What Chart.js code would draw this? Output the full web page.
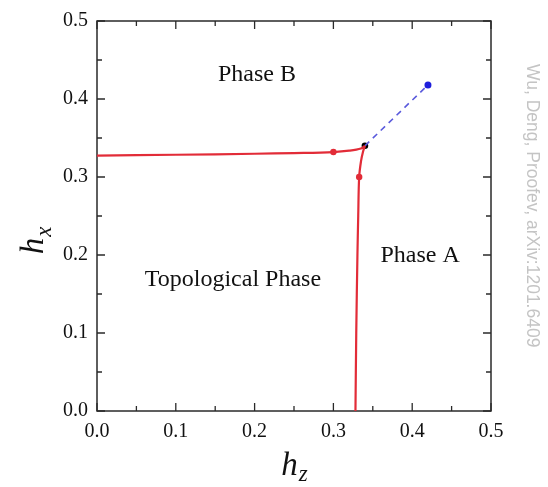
<!DOCTYPE html>
<html>
<head>
<meta charset="utf-8">
<script src="https://cdn.jsdelivr.net/npm/chart.js@4.4.0/dist/chart.umd.min.js"></script>
<style>
  html, body { margin: 0; padding: 0; background: #fff; }
  canvas { display: block; }
</style>
</head>
<body>
<canvas id="c" width="548" height="487"></canvas>
<script>
// ---- data ----
const xTicks = [0.0, 0.1, 0.2, 0.3, 0.4, 0.5];
const yTicks = [0.0, 0.1, 0.2, 0.3, 0.4, 0.5];

// Phase B / Topological boundary (roughly horizontal)
const boundaryB_hz = [0.000, 0.100, 0.200, 0.250, 0.300, 0.320, 0.335, 0.340];
const boundaryB_hx = [0.3275, 0.3285, 0.3298, 0.3307, 0.3320, 0.3337, 0.3365, 0.3400];

// Phase A / Topological boundary (roughly vertical)
const boundaryA_hz = [0.3280, 0.3290, 0.3305, 0.3315, 0.3327, 0.3350, 0.3375, 0.3400];
const boundaryA_hx = [0.000, 0.100, 0.200, 0.250, 0.300, 0.320, 0.332, 0.340];

// dashed A/B line
const dashed_hz = [0.340, 0.420];
const dashed_hx = [0.340, 0.418];

// marked points
const redMarks_hz = [0.300, 0.3327];
const redMarks_hx = [0.332, 0.300];
const triple_hz = [0.340];
const triple_hx = [0.340];

const regionLabels = ["Phase B", "Phase A", "Topological Phase"];
const regionLabel_hz = [0.203, 0.410, 0.1725];
const regionLabel_hx = [0.431, 0.199, 0.168];

const watermark = "Wu, Deng, Proofev, arXiv:1201.6409";

function pts(xs, ys) { return xs.map((x, i) => ({ x: x, y: ys[i] })); }

const SERIF = "'Liberation Serif', 'Times New Roman', serif";
const RED = "rgb(226, 44, 56)";

const framePlugin = {
  id: 'frame',
  beforeDatasetsDraw(chart) {
    const { ctx, chartArea: a, scales } = chart;
    ctx.save();
    ctx.strokeStyle = '#2a2a2a';
    ctx.lineWidth = 1.5;
    ctx.strokeRect(a.left, a.top, a.right - a.left, a.bottom - a.top);
    ctx.lineWidth = 1.3;
    ctx.beginPath();
    for (let k = 0; k <= 10; k++) {
      const v = k * 0.05;
      const len = (k % 2 === 0) ? 8 : 5;
      const px = scales.x.getPixelForValue(v);
      const py = scales.y.getPixelForValue(v);
      ctx.moveTo(px, a.bottom); ctx.lineTo(px, a.bottom - len);
      ctx.moveTo(px, a.top); ctx.lineTo(px, a.top + len);
      ctx.moveTo(a.left, py); ctx.lineTo(a.left + len, py);
      ctx.moveTo(a.right, py); ctx.lineTo(a.right - len, py);
    }
    ctx.stroke();
    ctx.restore();
  },
  afterDraw(chart) {
    const { ctx, chartArea: a, scales } = chart;
    ctx.save();
    // region labels
    ctx.fillStyle = '#111';
    ctx.font = "24px " + SERIF;
    ctx.textAlign = 'center';
    ctx.textBaseline = 'middle';
    regionLabels.forEach((t, i) => {
      ctx.fillText(t, scales.x.getPixelForValue(regionLabel_hz[i]), scales.y.getPixelForValue(regionLabel_hx[i]));
    });
    // x-axis title h_z
    ctx.textAlign = 'left';
    ctx.textBaseline = 'alphabetic';
    const cx = (a.left + a.right) / 2;
    ctx.font = "italic 33px " + SERIF;
    const wh = ctx.measureText('h').width;
    ctx.font = "italic 23px " + SERIF;
    const wz = ctx.measureText('z').width;
    let x0 = cx - (wh + wz) / 2;
    ctx.font = "italic 33px " + SERIF;
    ctx.fillText('h', x0, 475);
    ctx.font = "italic 23px " + SERIF;
    ctx.fillText('z', x0 + wh + 1, 481);
    // y-axis title h_x
    const cy = (a.top + a.bottom) / 2;
    ctx.save();
    ctx.translate(43, cy + 25);
    ctx.rotate(-Math.PI / 2);
    ctx.font = "italic 33px " + SERIF;
    const wh2 = ctx.measureText('h').width;
    ctx.font = "italic 23px " + SERIF;
    const wx2 = ctx.measureText('x').width;
    x0 = -(wh2 + wx2) / 2;
    ctx.font = "italic 33px " + SERIF;
    ctx.fillText('h', x0, 0);
    ctx.font = "italic 23px " + SERIF;
    ctx.fillText('x', x0 + wh2 + 1, 8);
    ctx.restore();
    // watermark
    ctx.save();
    ctx.translate(527, 64);
    ctx.rotate(Math.PI / 2);
    ctx.fillStyle = '#c4c4c4';
    ctx.font = "17.5px 'Liberation Sans', Arial, sans-serif";
    ctx.textAlign = 'left';
    ctx.textBaseline = 'alphabetic';
    ctx.fillText(watermark, 0, 0);
    ctx.restore();
    ctx.restore();
  }
};

new Chart(document.getElementById('c'), {
  type: 'scatter',
  data: {
    datasets: [
      {
        data: pts(boundaryB_hz, boundaryB_hx),
        showLine: true, borderColor: RED, borderWidth: 2.2, tension: 0.35,
        pointRadius: 0, fill: false
      },
      {
        data: pts(boundaryA_hz, boundaryA_hx),
        showLine: true, borderColor: RED, borderWidth: 2.2, tension: 0.35,
        pointRadius: 0, fill: false
      },
      {
        data: pts(dashed_hz, dashed_hx),
        showLine: true, borderColor: 'rgb(90, 90, 220)', borderWidth: 1.6,
        borderDash: [6, 5], pointRadius: [0, 3.5],
        pointBackgroundColor: 'rgb(30, 30, 220)', pointBorderWidth: 0, fill: false
      },
      {
        data: pts(redMarks_hz, redMarks_hx),
        showLine: false, pointRadius: 3.2, pointBackgroundColor: RED, pointBorderWidth: 0
      },
      {
        data: pts(triple_hz, triple_hx),
        showLine: false, pointRadius: 3.3, pointBackgroundColor: '#000', pointBorderWidth: 0
      }
    ]
  },
  options: {
    responsive: false,
    animation: false,
    events: [],
    layout: { padding: { left: 0, top: 18, right: 57, bottom: 0 } },
    plugins: { legend: { display: false }, tooltip: { enabled: false } },
    scales: {
      x: {
        type: 'linear', min: 0, max: 0.5,
        afterBuildTicks: s => { s.ticks = xTicks.map(v => ({ value: v })); },
        afterFit: s => { s.height = 76; },
        grid: { display: false, drawTicks: false },
        border: { display: false },
        ticks: {
          color: '#111', padding: 9,
          font: { family: SERIF, size: 20 },
          callback: v => v.toFixed(1)
        }
      },
      y: {
        type: 'linear', min: 0, max: 0.5,
        afterBuildTicks: s => { s.ticks = yTicks.map(v => ({ value: v })); },
        afterFit: s => { s.width = 97; },
        grid: { display: false, drawTicks: false },
        border: { display: false },
        ticks: {
          color: '#111', padding: 9,
          font: { family: SERIF, size: 20 },
          callback: v => v.toFixed(1)
        }
      }
    }
  },
  plugins: [framePlugin]
});
</script>
</body>
</html>
